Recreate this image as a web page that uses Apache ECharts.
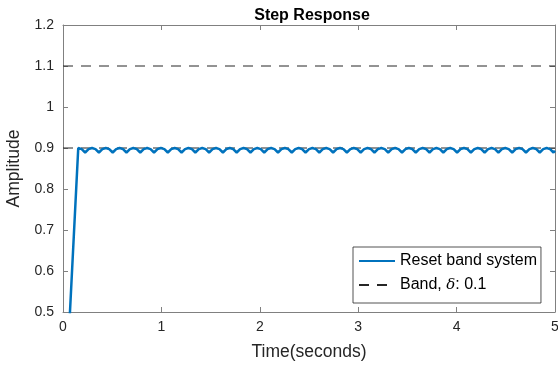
<!DOCTYPE html>
<html>
<head>
<meta charset="utf-8">
<script src="https://cdn.jsdelivr.net/npm/echarts@6/dist/echarts.min.js"></script>
<style>html,body{margin:0;padding:0;background:#fff;}#c{width:558px;height:369px;}</style>
</head>
<body>
<div id="c"></div>
<script>
// ---- data ----
var riseTimes = [0, 0.035];
var riseValues = [0, 0.33];
var waveStart = 0.155;      // time the response first reaches 0.9
var waveStep = 0.035;       // sample spacing of the ripple
var waveValues = [
  0.9, 0.8973, 0.889, 0.8973, 0.9, 0.8973, 0.889, 0.8973,
  0.9, 0.8973, 0.889, 0.8973, 0.9, 0.8973, 0.889, 0.8973,
  0.9, 0.8973, 0.889, 0.8973, 0.9, 0.8973, 0.889, 0.8973,
  0.9, 0.8973, 0.889, 0.8973, 0.9, 0.8973, 0.889, 0.8973,
  0.9, 0.8973, 0.889, 0.8973, 0.9, 0.8973, 0.889, 0.8973,
  0.9, 0.8973, 0.889, 0.8973, 0.9, 0.8973, 0.889, 0.8973,
  0.9, 0.8973, 0.889, 0.8973, 0.9, 0.8973, 0.889, 0.8973,
  0.9, 0.8973, 0.889, 0.8973, 0.9, 0.8973, 0.889, 0.8973,
  0.9, 0.8973, 0.889, 0.8973, 0.9, 0.8973, 0.889, 0.8973,
  0.9, 0.8973, 0.889, 0.8973, 0.9, 0.8973, 0.889, 0.8973,
  0.9, 0.8973, 0.889, 0.8973, 0.9, 0.8973, 0.889, 0.8973,
  0.9, 0.8973, 0.889, 0.8973, 0.9, 0.8973, 0.889, 0.8973,
  0.9, 0.8973, 0.889, 0.8973, 0.9, 0.8973, 0.889, 0.8973,
  0.9, 0.8973, 0.889, 0.8973, 0.9, 0.8973, 0.889, 0.8973,
  0.9, 0.8973, 0.889, 0.8973, 0.9, 0.8973, 0.889, 0.8973,
  0.9, 0.8973, 0.889, 0.8973, 0.9, 0.8973, 0.889, 0.8973,
  0.9, 0.8973, 0.889, 0.8973, 0.9, 0.8973, 0.889, 0.8973,
  0.9, 0.8973, 0.889
];
var endTime = 5;
var endValue = 0.8935;
var bandTimes = [0, 5];
var bandUpper = [1.1, 1.1];
var bandLower = [0.9, 0.9];
var xTicks = [0, 1, 2, 3, 4, 5];
var yTicks = [0.5, 0.6, 0.7, 0.8, 0.9, 1, 1.1, 1.2];

// ---- build ----
var resp = [];
for (var i = 0; i < riseTimes.length; i++) resp.push([riseTimes[i], riseValues[i]]);
for (var j = 0; j < waveValues.length; j++) resp.push([+(waveStart + j * waveStep).toFixed(4), waveValues[j]]);
resp.push([endTime, endValue]);
function pairs(t, v) { return t.map(function (x, k) { return [x, v[k]]; }); }

var FONT = '"Liberation Sans", Arial, Helvetica, sans-serif';
var AX = '#808080';
var TXT = '#262626';
var chart = echarts.init(document.getElementById('c'), null, {renderer: 'canvas'});
var baseX = {
  type: 'value', min: xTicks[0], max: xTicks[xTicks.length - 1], interval: 1,
  axisLine: {show: true, onZero: false, lineStyle: {color: AX, width: 1}},
  axisTick: {show: true, inside: true, length: 5, lineStyle: {color: AX}},
  splitLine: {show: false}
};
var baseY = {
  type: 'value', min: yTicks[0], max: yTicks[yTicks.length - 1], interval: 0.1,
  axisLine: {show: true, onZero: false, lineStyle: {color: AX, width: 1}},
  axisTick: {show: true, inside: true, length: 5, lineStyle: {color: AX}},
  splitLine: {show: false}
};
chart.setOption({
  animation: false,
  backgroundColor: '#fff',
  title: {
    text: 'Step Response', left: 307, top: 3, textAlign: 'center',
    textStyle: {fontFamily: FONT, fontSize: 16, fontWeight: 'bold', color: '#000'}
  },
  grid: {left: 63, right: 3, top: 25, bottom: 57, containLabel: false, outerBoundsMode: 'none'},
  xAxis: [
    Object.assign({}, baseX, {
      position: 'bottom', name: 'Time(seconds)', nameLocation: 'middle', nameGap: 31,
      nameTextStyle: {fontFamily: FONT, fontSize: 17.5, color: TXT},
      axisLabel: {fontFamily: FONT, fontSize: 14, color: TXT, margin: 8}
    }),
    Object.assign({}, baseX, {position: 'top', axisLabel: {show: false}})
  ],
  yAxis: [
    Object.assign({}, baseY, {
      position: 'left', name: 'Amplitude', nameLocation: 'middle', nameGap: 32,
      nameTextStyle: {fontFamily: FONT, fontSize: 17.5, color: TXT},
      axisLabel: {fontFamily: FONT, fontSize: 14, color: TXT, margin: 9,
        formatter: function (v) { return String(+v.toFixed(2)); }}
    }),
    Object.assign({}, baseY, {position: 'right', axisLabel: {show: false}})
  ],
  legend: {
    orient: 'vertical', left: 353, top: 247,
    padding: [6, 4, 10, 5], itemGap: 8, itemWidth: 36, itemHeight: 16,
    borderColor: '#262626', borderWidth: 0.8, backgroundColor: '#fff',
    itemStyle: {opacity: 0},
    textStyle: {fontFamily: FONT, fontSize: 16, color: '#000',
      rich: {i: {fontFamily: '"DejaVu Serif", serif', fontStyle: 'italic', fontSize: 15, color: '#000'}}},
    formatter: function (n) { return n === 'Band' ? 'Band, {i|δ}: 0.1' : n; },
    data: ['Reset band system', 'Band']
  },
  series: [
    {name: 'Band', type: 'line', data: pairs(bandTimes, bandUpper), symbol: 'none',
      lineStyle: {color: '#262626', width: 1, type: [10, 8]}, itemStyle: {color: '#262626', opacity: 0}, z: 2},
    {name: 'Band', type: 'line', data: pairs(bandTimes, bandLower), symbol: 'none',
      lineStyle: {color: '#262626', width: 1, type: [10, 8]}, itemStyle: {color: '#262626', opacity: 0}, z: 2},
    {name: 'Reset band system', type: 'line', data: resp, symbol: 'none', clip: true,
      lineStyle: {color: '#0072BD', width: 2.5}, itemStyle: {color: '#0072BD', opacity: 0}, z: 3}
  ]
});
</script>
</body>
</html>
